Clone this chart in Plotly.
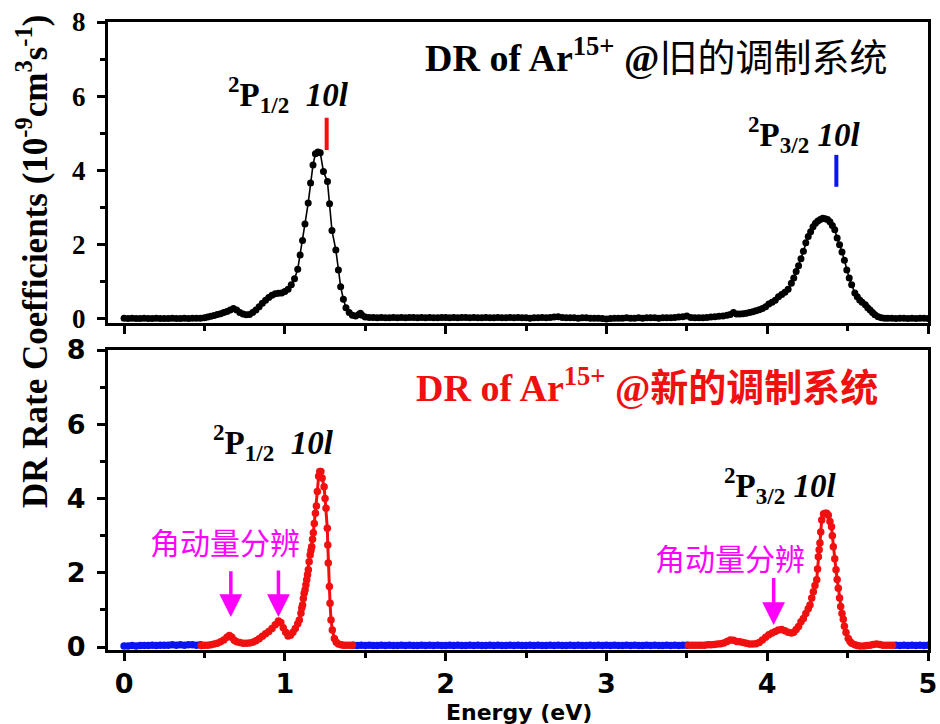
import numpy as np
import plotly.graph_objects as go

# ---------------- data ----------------
# Old modulation system (top, black)
top_base1_E = [0.0, 0.025, 0.05, 0.075, 0.1, 0.125, 0.15, 0.175, 0.2, 0.225, 0.25, 0.275, 0.3, 0.325,
               0.35, 0.375, 0.4, 0.425, 0.45, 0.475]
top_base1_V = [0.02, 0.01, 0.02, 0.01, 0.01, 0.02, 0.01, 0.01, 0.02, 0.01, 0.01, 0.01, 0.02, 0.01,
               0.01, 0.02, 0.01, 0.02, 0.02, 0.02]
top_peak1_E = [0.50, 0.52, 0.54, 0.56, 0.58, 0.60, 0.62, 0.64, 0.66, 0.68, 0.70, 0.72, 0.74, 0.76, 0.78,
               0.80, 0.82, 0.84, 0.86, 0.88, 0.90, 0.92, 0.94, 0.96, 0.98, 1.00, 1.02, 1.04, 1.06, 1.08,
               1.095, 1.11, 1.125, 1.145, 1.16, 1.175, 1.19, 1.205, 1.22, 1.24, 1.265, 1.278, 1.293,
               1.317, 1.333, 1.347, 1.364, 1.38, 1.40, 1.42, 1.44, 1.46, 1.47, 1.48, 1.50]
top_peak1_V = [0.03, 0.05, 0.07, 0.09, 0.12, 0.14, 0.17, 0.20, 0.24, 0.28, 0.24, 0.17, 0.13, 0.11, 0.12,
               0.17, 0.24, 0.33, 0.42, 0.50, 0.58, 0.64, 0.68, 0.69, 0.70, 0.74, 0.80, 0.92, 1.08, 1.34,
               1.72, 2.11, 2.56, 3.12, 3.66, 4.15, 4.45, 4.50, 4.48, 3.97, 3.70, 3.10, 2.38,
               1.86, 1.32, 0.87, 0.53, 0.30, 0.17, 0.10, 0.08, 0.12, 0.15, 0.10, 0.05]
top_base2_E = [1.525, 1.55, 1.575, 1.6, 1.625, 1.65, 1.675, 1.7, 1.725, 1.75, 1.775, 1.8, 1.825, 1.85,
               1.875, 1.9, 1.925, 1.95, 1.975, 2.0, 2.025, 2.05, 2.075, 2.1, 2.125, 2.15, 2.175, 2.2,
               2.225, 2.25, 2.275, 2.3, 2.325, 2.35, 2.375, 2.4, 2.425, 2.45, 2.475, 2.5, 2.525, 2.55,
               2.575, 2.6, 2.625, 2.65, 2.675, 2.7, 2.725, 2.75, 2.775, 2.8, 2.825, 2.85, 2.875, 2.9,
               2.925, 2.95, 2.975, 3.0, 3.025, 3.05, 3.075, 3.1, 3.125, 3.15, 3.175, 3.2, 3.225, 3.25,
               3.275, 3.3, 3.325, 3.35, 3.375, 3.4, 3.425, 3.45, 3.475]
top_base2_V = [0.04, 0.04, 0.03, 0.04, 0.03, 0.03, 0.04, 0.03, 0.04, 0.03, 0.04, 0.04, 0.03, 0.04,
               0.03, 0.04, 0.03, 0.03, 0.04, 0.04, 0.03, 0.04, 0.03, 0.04, 0.04, 0.03, 0.04, 0.03,
               0.03, 0.04, 0.03, 0.03, 0.04, 0.03, 0.03, 0.04, 0.03, 0.04, 0.03, 0.03, 0.02, 0.03,
               0.03, 0.04, 0.03, 0.04, 0.05, 0.06, 0.04, 0.03, 0.03, 0.03, 0.02, 0.03, 0.03, 0.02,
               0.02, 0.02, 0.01, 0.00, 0.01, 0.02, 0.02, 0.02, 0.03, 0.02, 0.02, 0.03, 0.02, 0.03,
               0.03, 0.03, 0.02, 0.03, 0.03, 0.03, 0.04, 0.05, 0.06]
top_peak2_E = [3.50, 3.525, 3.55, 3.575, 3.60, 3.625, 3.65, 3.675, 3.70, 3.725, 3.75, 3.77, 3.79, 3.81,
               3.83, 3.85, 3.87, 3.89, 3.91, 3.93, 3.95, 3.97, 3.99, 4.01, 4.03, 4.05, 4.07, 4.09, 4.11,
               4.13, 4.15, 4.165, 4.18, 4.195, 4.21, 4.225, 4.24, 4.255, 4.27, 4.285, 4.30, 4.315, 4.33,
               4.345, 4.36, 4.375, 4.39, 4.405, 4.42, 4.435, 4.45, 4.465, 4.48, 4.495, 4.51, 4.525,
               4.545, 4.56, 4.575, 4.59, 4.61, 4.625, 4.64, 4.655, 4.67, 4.69, 4.71, 4.73, 4.75]
top_peak2_V = [0.08, 0.04, 0.03, 0.03, 0.03, 0.04, 0.05, 0.06, 0.07, 0.08, 0.10, 0.12, 0.17, 0.13,
               0.13, 0.14, 0.15, 0.17, 0.19, 0.22, 0.25, 0.28, 0.33, 0.40, 0.45, 0.50, 0.60, 0.66, 0.72,
               0.80, 0.96, 1.10, 1.28, 1.43, 1.62, 1.82, 2.05, 2.22, 2.35, 2.48, 2.58, 2.64, 2.68,
               2.71, 2.70, 2.68, 2.62, 2.52, 2.40, 2.18, 2.00, 1.80, 1.58, 1.32, 1.10, 0.92,
               0.70, 0.60, 0.51, 0.45, 0.38, 0.30, 0.24, 0.17, 0.11, 0.06, 0.03, 0.02, 0.02]
top_base3_E = [4.775, 4.8, 4.825, 4.85, 4.875, 4.9, 4.925, 4.95, 4.975, 5.0]
top_base3_V = [0.02, 0.01, 0.02, 0.02, 0.01, 0.02, 0.01, 0.02, 0.02, 0.01]

# New modulation system (bottom): red = scanned peaks, blue = background
red1_E = [0.48, 0.50, 0.52, 0.54, 0.56, 0.58, 0.60, 0.62, 0.64, 0.655, 0.67, 0.685, 0.70, 0.72, 0.74,
          0.76, 0.78, 0.80, 0.82, 0.84, 0.86, 0.88, 0.90, 0.92, 0.94, 0.96, 0.975, 0.99, 1.005, 1.02,
          1.035, 1.05, 1.065, 1.08, 1.09, 1.10, 1.105, 1.11, 1.115, 1.12, 1.126, 1.131, 1.136, 1.141,
          1.146, 1.151, 1.157, 1.162, 1.167, 1.172, 1.177, 1.183, 1.19, 1.196, 1.202, 1.21, 1.217,
          1.224, 1.232, 1.244, 1.25, 1.256, 1.264, 1.267, 1.27, 1.277, 1.281, 1.287, 1.295, 1.308,
          1.32, 1.333, 1.35, 1.364, 1.38, 1.40, 1.42]
red1_V = [0.04, 0.05, 0.05, 0.06, 0.08, 0.10, 0.14, 0.19, 0.26, 0.31, 0.26, 0.18, 0.14, 0.12, 0.10,
          0.10, 0.11, 0.13, 0.17, 0.22, 0.29, 0.36, 0.42, 0.50, 0.60, 0.70, 0.66, 0.52, 0.40, 0.30,
          0.32, 0.40, 0.50, 0.63, 0.73, 0.91, 1.05, 1.13, 1.31, 1.45, 1.54, 1.68, 1.81, 1.95,
          2.08, 2.30, 2.48, 2.60, 2.70, 2.90, 3.08, 3.33, 3.60, 3.80, 4.19, 4.60, 4.73,
          4.73, 4.55, 4.32, 4.00, 3.74, 3.20, 2.75, 2.26, 1.63, 1.18, 0.73, 0.46, 0.23,
          0.13, 0.08, 0.06, 0.05, 0.05, 0.05, 0.05]
red2_E = [3.51, 3.53, 3.55, 3.57, 3.59, 3.61, 3.63, 3.65, 3.67, 3.69, 3.71, 3.73, 3.75, 3.77, 3.79,
          3.81, 3.83, 3.85, 3.87, 3.89, 3.91, 3.93, 3.95, 3.97, 3.99, 4.01, 4.03, 4.05, 4.07, 4.09,
          4.11, 4.13, 4.15, 4.165, 4.18, 4.195, 4.21, 4.225, 4.24, 4.255, 4.266, 4.277, 4.287, 4.297,
          4.308, 4.313, 4.318, 4.323, 4.328, 4.333, 4.339, 4.35, 4.36, 4.37, 4.38, 4.39, 4.40, 4.405,
          4.411, 4.42, 4.428, 4.435, 4.442, 4.45, 4.457, 4.465, 4.473, 4.48, 4.49, 4.504, 4.515,
          4.525, 4.545, 4.56, 4.577, 4.60, 4.62, 4.64, 4.66, 4.68, 4.70, 4.72, 4.74, 4.76, 4.78]
red2_V = [0.05, 0.05, 0.05, 0.05, 0.05, 0.05, 0.06, 0.06, 0.07, 0.08, 0.09, 0.11, 0.15, 0.19, 0.18,
          0.15, 0.14, 0.12, 0.10, 0.08, 0.08, 0.09, 0.12, 0.19, 0.26, 0.33, 0.38, 0.42, 0.46, 0.47,
          0.44, 0.40, 0.38, 0.40, 0.47, 0.55, 0.68, 0.77, 0.90, 1.03, 1.13, 1.32, 1.49, 1.66,
          1.81, 2.10, 2.43, 2.62, 2.80, 3.10, 3.42, 3.58, 3.60, 3.60, 3.55, 3.38, 3.24, 3.00,
          2.70, 2.38, 2.08, 1.82, 1.58, 1.32, 1.09, 0.90, 0.75, 0.56, 0.39, 0.23, 0.15,
          0.10, 0.06, 0.04, 0.03, 0.03, 0.04, 0.05, 0.07, 0.08, 0.07, 0.05, 0.05, 0.05, 0.05]
blue1_E = [0.0, 0.025, 0.05, 0.075, 0.1, 0.125, 0.15, 0.175, 0.2, 0.225, 0.25, 0.275, 0.3, 0.325,
           0.35, 0.375, 0.4, 0.425, 0.45, 0.475]
blue1_V = [0.03, 0.03, 0.04, 0.03, 0.04, 0.04, 0.04, 0.05, 0.04, 0.05, 0.05, 0.05, 0.06, 0.05,
           0.06, 0.05, 0.06, 0.06, 0.05, 0.06]
blue2_E = [1.425, 1.45, 1.475, 1.5, 1.525, 1.55, 1.575, 1.6, 1.625, 1.65, 1.675, 1.7, 1.725, 1.75,
           1.775, 1.8, 1.825, 1.85, 1.875, 1.9, 1.925, 1.95, 1.975, 2.0, 2.025, 2.05, 2.075, 2.1,
           2.125, 2.15, 2.175, 2.2, 2.225, 2.25, 2.275, 2.3, 2.325, 2.35, 2.375, 2.4, 2.425, 2.45,
           2.475, 2.5, 2.525, 2.55, 2.575, 2.6, 2.625, 2.65, 2.675, 2.7, 2.725, 2.75, 2.775, 2.8,
           2.825, 2.85, 2.875, 2.9, 2.925, 2.95, 2.975, 3.0, 3.025, 3.05, 3.075, 3.1, 3.125, 3.15,
           3.175, 3.2, 3.225, 3.25, 3.275, 3.3, 3.325, 3.35, 3.375, 3.4, 3.425, 3.45, 3.475, 3.5]
blue2_V = [0.05, 0.04, 0.05, 0.04, 0.05, 0.04, 0.04, 0.05, 0.04, 0.05, 0.04, 0.04, 0.05, 0.04,
           0.05, 0.04, 0.04, 0.05, 0.04, 0.05, 0.04, 0.05, 0.04, 0.04, 0.05, 0.04, 0.05, 0.04,
           0.04, 0.05, 0.04, 0.05, 0.04, 0.04, 0.05, 0.04, 0.05, 0.04, 0.04, 0.05, 0.04, 0.05,
           0.04, 0.04, 0.05, 0.04, 0.05, 0.04, 0.04, 0.05, 0.04, 0.05, 0.04, 0.04, 0.05, 0.04,
           0.05, 0.04, 0.04, 0.05, 0.04, 0.05, 0.04, 0.05, 0.04, 0.05, 0.04, 0.04, 0.05, 0.04,
           0.05, 0.04, 0.04, 0.05, 0.04, 0.05, 0.04, 0.04, 0.05, 0.04, 0.05, 0.04, 0.05, 0.05]
blue3_E = [4.8, 4.825, 4.85, 4.875, 4.9, 4.925, 4.95, 4.975, 5.0]
blue3_V = [0.05, 0.04, 0.05, 0.04, 0.05, 0.04, 0.05, 0.04, 0.05]

x_ticks = [0, 1, 2, 3, 4, 5]
x_ticklabels = ["0", "1", "2", "3", "4", "5"]
y_ticks = [0, 2, 4, 6, 8]
y_ticklabels = ["0", "2", "4", "6", "8"]

# level markers (energy, y_low, y_high)
old_bar_p12 = (1.26, 4.55, 5.42)
old_bar_p32 = (4.43, 3.56, 4.42)
# angular-momentum-resolved arrows (energy, head y, tail y)
arrows = [(0.664, 0.81, 2.08), (0.96, 0.81, 2.10), (4.04, 0.59, 1.90)]

# ---------------- figure ----------------
top_E = top_base1_E + top_peak1_E + top_base2_E + top_peak2_E + top_base3_E
top_V = top_base1_V + top_peak1_V + top_base2_V + top_peak2_V + top_base3_V

fig = go.Figure()
fig.add_trace(go.Scatter(x=top_E, y=top_V, mode="lines+markers",
                         line=dict(color="black", width=1.6),
                         marker=dict(color="black", size=7),
                         xaxis="x", yaxis="y", showlegend=False))
for ex, vy in [(blue1_E, blue1_V), (blue2_E, blue2_V), (blue3_E, blue3_V)]:
    fig.add_trace(go.Scatter(x=ex, y=vy, mode="lines+markers",
                             line=dict(color="#0a14f0", width=2.5),
                             marker=dict(color="#0a14f0", size=7.5),
                             xaxis="x2", yaxis="y2", showlegend=False))
for ex, vy in [(red1_E, red1_V), (red2_E, red2_V)]:
    fig.add_trace(go.Scatter(x=ex, y=vy, mode="lines+markers",
                             line=dict(color="#f01010", width=3),
                             marker=dict(color="#f01010", size=7.5),
                             xaxis="x2", yaxis="y2", showlegend=False))

bold = lambda labels: ["<b>%s</b>" % s for s in labels]
common_x = dict(range=[-0.1, 5], tickmode="array", tickvals=x_ticks, ticktext=bold(x_ticklabels),
                ticks="outside", ticklen=8, tickwidth=3,
                tickcolor="black", showline=True, linewidth=3, linecolor="black", mirror=True,
                showgrid=False, zeroline=False, automargin=False,
                minor=dict(dtick=0.5, tick0=0, ticks="outside", ticklen=5, tickwidth=3, tickcolor="black"))
common_y = dict(tickmode="array", tickvals=y_ticks, ticktext=bold(y_ticklabels), ticks="outside",
                ticklen=8, tickwidth=3,
                tickcolor="black", showline=True, linewidth=3, linecolor="black", mirror=True,
                showgrid=False, zeroline=False, ticklabelstandoff=6, automargin=False,
                minor=dict(dtick=1, tick0=0, ticks="outside", ticklen=5, tickwidth=3, tickcolor="black"))

fig.update_layout(
    width=940, height=724,
    margin=dict(l=108, r=12, t=22, b=74),
    plot_bgcolor="white", paper_bgcolor="white",
    font=dict(family="DejaVu Sans", size=27, color="black"),
    xaxis=dict(common_x, anchor="y", domain=[0, 1], showticklabels=False),
    yaxis=dict(common_y, anchor="x", domain=[0.5207, 1], range=[-0.11, 8]),
    xaxis2=dict(common_x, anchor="y2", domain=[0, 1], ticklabelstandoff=0),
    yaxis2=dict(common_y, anchor="x2", domain=[0, 0.4777], range=[-0.08, 8]),
)
fig.update_xaxes(tickfont=dict(family="DejaVu Sans", size=27, color="black"))
fig.update_yaxes(tickfont=dict(family="DejaVu Sans", size=27, color="black"), selector=dict(anchor="x2"))
fig.update_yaxes(tickfont=dict(family="Liberation Serif", size=27, color="black"), selector=dict(anchor="x"))

serif = "Liberation Serif, Noto Sans CJK SC"
ann = []
ann.append(dict(xref="x", yref="y", x=3.31, y=7.12, showarrow=False,
                text="<b>DR of Ar<sup>15+</sup> @</b>旧的调制系统",
                font=dict(family=serif, size=38, color="black")))
ann.append(dict(xref="x", yref="y", x=1.02, y=6.04, showarrow=False,
                text="<b><sup>2</sup>P<sub>1/2</sub>  <i>10l</i></b>",
                font=dict(family=serif, size=33, color="black")))
ann.append(dict(xref="x", yref="y", x=4.23, y=4.96, showarrow=False,
                text="<b><sup>2</sup>P<sub>3/2</sub> <i>10l</i></b>",
                font=dict(family=serif, size=33, color="black")))
ann.append(dict(xref="x2", yref="y2", x=3.25, y=7.06, showarrow=False,
                text="<b>DR of Ar<sup>15+</sup> @新的调制系统</b>",
                font=dict(family=serif, size=38, color="#f01010")))
ann.append(dict(xref="x2", yref="y2", x=0.93, y=5.5, showarrow=False,
                text="<b><sup>2</sup>P<sub>1/2</sub>  <i>10l</i></b>",
                font=dict(family=serif, size=33, color="black")))
ann.append(dict(xref="x2", yref="y2", x=4.08, y=4.34, showarrow=False,
                text="<b><sup>2</sup>P<sub>3/2</sub> <i>10l</i></b>",
                font=dict(family=serif, size=33, color="black")))
ann.append(dict(xref="x2", yref="y2", x=0.628, y=2.86, showarrow=False, text="角动量分辨",
                font=dict(family="Noto Sans CJK SC", size=30, color="#ff00ff")))
ann.append(dict(xref="x2", yref="y2", x=3.77, y=2.43, showarrow=False, text="角动量分辨",
                font=dict(family="Noto Sans CJK SC", size=30, color="#ff00ff")))
for ex, yh, yt in arrows:
    ann.append(dict(xref="x2", yref="y2", axref="x2", ayref="y2", x=ex, y=yh, ax=ex, ay=yt,
                    text="", showarrow=True, arrowhead=2, arrowsize=1.3, arrowwidth=3.5,
                    arrowcolor="#ff00ff"))
ann.append(dict(xref="paper", yref="paper", x=(32 - 108) / 820, y=(650 - 262) / 628,
                xanchor="center", yanchor="middle", textangle=-90, showarrow=False,
                text="<b>DR Rate Coefficients (10<sup>-9</sup>cm<sup>3</sup>s<sup>-1</sup>)</b>",
                font=dict(family="Liberation Serif", size=35, color="black")))
ann.append(dict(xref="paper", yref="paper", x=(519 - 108) / 820, y=(650 - 712) / 628,
                xanchor="center", yanchor="middle", showarrow=False,
                text="<b>Energy (eV)</b>",
                font=dict(family="DejaVu Sans", size=22, color="black")))
fig.update_layout(annotations=ann)

for (ex, y0, y1), col in [(old_bar_p12, "#f01010"), (old_bar_p32, "#0a14f0")]:
    fig.add_shape(type="line", xref="x", yref="y", x0=ex, x1=ex, y0=y0, y1=y1,
                  line=dict(color=col, width=4))

fig.write_html("out.html")
